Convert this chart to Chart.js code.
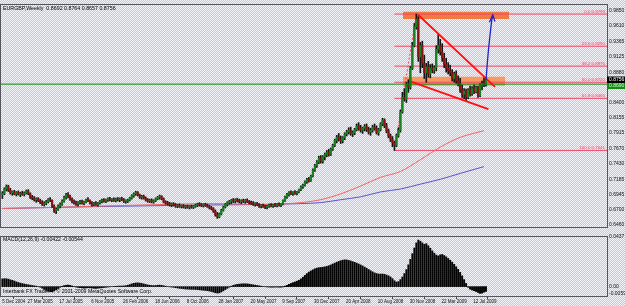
<!DOCTYPE html>
<html><head><meta charset="utf-8">
<script src="https://cdn.jsdelivr.net/npm/chart.js@4.4.1/dist/chart.umd.min.js"></script>
<style>
html,body{margin:0;padding:0;width:625px;height:306px;overflow:hidden}
body{background-color:#dcdaee;background-image:repeating-conic-gradient(#c6c4e2 0% 25%,#f3f3fa 0% 50%);background-size:2px 2px;position:relative}
canvas{position:absolute;left:0}
#main{top:0}
#macd{top:232px}
</style></head><body>
<canvas id="main" width="625" height="232"></canvas>
<canvas id="macd" width="625" height="74"></canvas>
<script>
// ---------- DATA ----------
const headerText = 'EURGBP,Weekly  0.8692 0.8764 0.8657 0.8756';
const macdTitle = 'MACD(12,26,9) -0.00422 -0.00544';
const copyrightText = 'Interbank FX Trader 4, \u00a9 2001-2009 MetaQuotes Software Corp.';
const firstWeek = 4;           // week index of first candle (week 0 = 5 Dec 2004)
const dateTickWeeks = [0,16,32,48,64,80,96,112,128,144,160,176,192,208,224,240];
const dateLabels = ['5 Dec 2004','27 Mar 2005','17 Jul 2005','6 Nov 2005','26 Feb 2006','18 Jun 2006','8 Oct 2006','28 Jan 2007','20 May 2007','9 Sep 2007','30 Dec 2007','20 Apr 2008','10 Aug 2008','30 Nov 2008','22 Mar 2009','12 Jul 2009'];
const priceTicks = [0.9850,0.9610,0.9365,0.9125,0.8880,0.8640,0.8400,0.8155,0.7915,0.7670,0.7430,0.7185,0.6945,0.6700,0.6460];
const macdTicks = [0.0437,0,-0.0059];
const macdTickLabels = ['0.0437','0.00','-0.0059'];

const opens = [
0.6935,0.6960,0.7030,0.7070,0.7010,0.6970,0.6985,0.6950,0.6975,0.6945,
0.6960,0.6950,0.6970,0.7000,0.6955,0.6900,0.6885,0.6860,0.6875,0.6845,
0.6815,0.6790,0.6805,0.6830,0.6865,0.6850,0.6760,0.6690,0.6710,0.6760,
0.6790,0.6840,0.6900,0.6940,0.6910,0.6870,0.6830,0.6810,0.6795,0.6815,
0.6830,0.6805,0.6825,0.6860,0.6845,0.6805,0.6790,0.6800,0.6785,0.6810,
0.6840,0.6855,0.6835,0.6860,0.6870,0.6855,0.6865,0.6850,0.6870,0.6860,
0.6875,0.6860,0.6835,0.6840,0.6855,0.6890,0.6925,0.6955,0.6975,0.6935,
0.6900,0.6915,0.6885,0.6860,0.6840,0.6850,0.6830,0.6845,0.6875,0.6900,
0.6915,0.6875,0.6825,0.6810,0.6800,0.6780,0.6795,0.6775,0.6760,0.6770,
0.6755,0.6765,0.6745,0.6755,0.6740,0.6750,0.6740,0.6760,0.6775,0.6790,
0.6780,0.6770,0.6785,0.6770,0.6750,0.6735,0.6720,0.6680,0.6625,0.6590,
0.6635,0.6695,0.6745,0.6785,0.6815,0.6835,0.6850,0.6840,0.6860,0.6845,
0.6830,0.6845,0.6835,0.6850,0.6830,0.6815,0.6805,0.6790,0.6800,0.6780,
0.6760,0.6770,0.6755,0.6745,0.6760,0.6775,0.6765,0.6780,0.6770,0.6785,
0.6775,0.6790,0.6850,0.6905,0.6945,0.6975,0.6960,0.6975,0.6965,0.6985,
0.7020,0.7065,0.7090,0.7145,0.7180,0.7165,0.7235,0.7330,0.7400,0.7455,
0.7520,0.7470,0.7540,0.7575,0.7610,0.7580,0.7660,0.7720,0.7800,0.7850,
0.7820,0.7790,0.7840,0.7900,0.7935,0.7960,0.7905,0.7920,0.7970,0.8030,
0.7990,0.7960,0.7990,0.8020,0.7970,0.7930,0.7960,0.8010,0.7990,0.7920,
0.7970,0.8060,0.8120,0.8030,0.7950,0.7870,0.7820,0.7760,0.7720,0.7880,
0.7960,0.8250,0.8480,0.8450,0.8680,0.8640,0.8940,0.9300,0.9600,0.9720,
0.9120,0.9300,0.9020,0.8870,0.8960,0.8850,0.8940,0.8910,0.8950,0.9240,
0.9300,0.9200,0.9100,0.9000,0.8940,0.8900,0.8870,0.8780,0.8850,0.8740,
0.8700,0.8600,0.8530,0.8580,0.8480,0.8600,0.8540,0.8620,0.8570,0.8640,
0.8510,0.8670,0.8700,0.8692];
const highs = [
0.6990,0.7050,0.7095,0.7090,0.7040,0.7000,0.7010,0.6990,0.7000,0.6980,
0.6995,0.6985,0.7015,0.7020,0.6970,0.6930,0.6910,0.6890,0.6895,0.6870,
0.6845,0.6830,0.6850,0.6880,0.6895,0.6860,0.6780,0.6730,0.6780,0.6810,
0.6860,0.6920,0.6960,0.6975,0.6935,0.6890,0.6860,0.6840,0.6830,0.6850,
0.6855,0.6840,0.6870,0.6895,0.6860,0.6830,0.6820,0.6830,0.6820,0.6850,
0.6870,0.6880,0.6870,0.6890,0.6900,0.6880,0.6890,0.6885,0.6895,0.6890,
0.6900,0.6880,0.6860,0.6870,0.6900,0.6940,0.6970,0.6995,0.6990,0.6950,
0.6930,0.6935,0.6905,0.6880,0.6870,0.6875,0.6860,0.6890,0.6915,0.6935,
0.6925,0.6890,0.6845,0.6835,0.6820,0.6810,0.6815,0.6800,0.6790,0.6795,
0.6780,0.6785,0.6770,0.6775,0.6765,0.6775,0.6770,0.6790,0.6805,0.6815,
0.6800,0.6795,0.6805,0.6790,0.6770,0.6755,0.6735,0.6700,0.6660,0.6650,
0.6710,0.6760,0.6800,0.6830,0.6850,0.6865,0.6880,0.6875,0.6885,0.6870,
0.6860,0.6870,0.6865,0.6875,0.6850,0.6840,0.6830,0.6815,0.6820,0.6800,
0.6785,0.6790,0.6775,0.6770,0.6790,0.6800,0.6790,0.6805,0.6800,0.6810,
0.6800,0.6860,0.6920,0.6960,0.6990,0.7000,0.6990,0.7005,0.6995,0.7030,
0.7080,0.7110,0.7160,0.7200,0.7215,0.7250,0.7350,0.7420,0.7480,0.7550,
0.7560,0.7560,0.7600,0.7640,0.7660,0.7680,0.7740,0.7820,0.7880,0.7910,
0.7870,0.7860,0.7920,0.7960,0.8000,0.8010,0.7950,0.7990,0.8060,0.8080,
0.8040,0.8010,0.8050,0.8060,0.8010,0.7990,0.8040,0.8060,0.8030,0.7990,
0.8080,0.8150,0.8140,0.8070,0.7980,0.7900,0.7860,0.7790,0.7900,0.8000,
0.8280,0.8560,0.8620,0.8720,0.8760,0.8970,0.9350,0.9650,0.9799,0.9760,
0.9350,0.9370,0.9150,0.9020,0.9050,0.9000,0.9010,0.8980,0.9300,0.9480,
0.9400,0.9330,0.9180,0.9100,0.9030,0.8990,0.8920,0.8880,0.8900,0.8820,
0.8780,0.8680,0.8620,0.8610,0.8620,0.8660,0.8650,0.8680,0.8660,0.8660,
0.8700,0.8740,0.8790,0.8764];
const lows = [
0.6880,0.6940,0.7000,0.6990,0.6950,0.6930,0.6940,0.6920,0.6935,0.6910,
0.6930,0.6920,0.6950,0.6940,0.6880,0.6860,0.6840,0.6820,0.6830,0.6800,
0.6770,0.6760,0.6780,0.6810,0.6830,0.6740,0.6660,0.6640,0.6690,0.6730,
0.6770,0.6820,0.6870,0.6890,0.6850,0.6810,0.6790,0.6770,0.6760,0.6790,
0.6790,0.6780,0.6810,0.6830,0.6790,0.6760,0.6765,0.6770,0.6760,0.6790,
0.6810,0.6820,0.6815,0.6835,0.6840,0.6830,0.6835,0.6825,0.6840,0.6830,
0.6845,0.6815,0.6805,0.6815,0.6840,0.6870,0.6900,0.6930,0.6920,0.6880,
0.6870,0.6870,0.6840,0.6820,0.6815,0.6810,0.6805,0.6830,0.6860,0.6870,
0.6860,0.6810,0.6790,0.6780,0.6760,0.6750,0.6760,0.6740,0.6735,0.6740,
0.6730,0.6730,0.6720,0.6725,0.6715,0.6725,0.6720,0.6740,0.6750,0.6760,
0.6750,0.6745,0.6755,0.6740,0.6715,0.6700,0.6660,0.6600,0.6565,0.6575,
0.6620,0.6680,0.6730,0.6760,0.6790,0.6800,0.6815,0.6810,0.6825,0.6810,
0.6800,0.6815,0.6805,0.6815,0.6795,0.6785,0.6770,0.6760,0.6765,0.6740,
0.6730,0.6740,0.6720,0.6715,0.6740,0.6745,0.6740,0.6750,0.6745,0.6760,
0.6750,0.6780,0.6835,0.6880,0.6915,0.6940,0.6930,0.6945,0.6935,0.6970,
0.7005,0.7040,0.7075,0.7120,0.7140,0.7150,0.7220,0.7310,0.7370,0.7430,
0.7440,0.7440,0.7490,0.7540,0.7550,0.7560,0.7640,0.7700,0.7760,0.7790,
0.7750,0.7760,0.7810,0.7870,0.7900,0.7880,0.7860,0.7890,0.7950,0.7960,
0.7930,0.7910,0.7950,0.7940,0.7900,0.7880,0.7930,0.7960,0.7900,0.7880,
0.7950,0.8030,0.8000,0.7920,0.7840,0.7780,0.7700,0.7641,0.7700,0.7850,
0.7930,0.8230,0.8420,0.8400,0.8560,0.8610,0.8920,0.9280,0.9560,0.9050,
0.8870,0.8950,0.8780,0.8720,0.8800,0.8790,0.8870,0.8860,0.8900,0.9180,
0.9150,0.9050,0.8950,0.8880,0.8850,0.8820,0.8740,0.8720,0.8700,0.8660,
0.8560,0.8480,0.8460,0.8430,0.8460,0.8500,0.8510,0.8540,0.8550,0.8480,
0.8490,0.8600,0.8650,0.8657];
const closes = [
0.6960,0.7030,0.7070,0.7010,0.6970,0.6985,0.6950,0.6975,0.6945,0.6960,
0.6950,0.6970,0.7000,0.6955,0.6900,0.6885,0.6860,0.6875,0.6845,0.6815,
0.6790,0.6805,0.6830,0.6865,0.6850,0.6760,0.6690,0.6710,0.6760,0.6790,
0.6840,0.6900,0.6940,0.6910,0.6870,0.6830,0.6810,0.6795,0.6815,0.6830,
0.6805,0.6825,0.6860,0.6845,0.6805,0.6790,0.6800,0.6785,0.6810,0.6840,
0.6855,0.6835,0.6860,0.6870,0.6855,0.6865,0.6850,0.6870,0.6860,0.6875,
0.6860,0.6835,0.6840,0.6855,0.6890,0.6925,0.6955,0.6975,0.6935,0.6900,
0.6915,0.6885,0.6860,0.6840,0.6850,0.6830,0.6845,0.6875,0.6900,0.6915,
0.6875,0.6825,0.6810,0.6800,0.6780,0.6795,0.6775,0.6760,0.6770,0.6755,
0.6765,0.6745,0.6755,0.6740,0.6750,0.6740,0.6760,0.6775,0.6790,0.6780,
0.6770,0.6785,0.6770,0.6750,0.6735,0.6720,0.6680,0.6625,0.6590,0.6635,
0.6695,0.6745,0.6785,0.6815,0.6835,0.6850,0.6840,0.6860,0.6845,0.6830,
0.6845,0.6835,0.6850,0.6830,0.6815,0.6805,0.6790,0.6800,0.6780,0.6760,
0.6770,0.6755,0.6745,0.6760,0.6775,0.6765,0.6780,0.6770,0.6785,0.6775,
0.6790,0.6850,0.6905,0.6945,0.6975,0.6960,0.6975,0.6965,0.6985,0.7020,
0.7065,0.7090,0.7145,0.7180,0.7165,0.7235,0.7330,0.7400,0.7455,0.7520,
0.7470,0.7540,0.7575,0.7610,0.7580,0.7660,0.7720,0.7800,0.7850,0.7820,
0.7790,0.7840,0.7900,0.7935,0.7960,0.7905,0.7920,0.7970,0.8030,0.7990,
0.7960,0.7990,0.8020,0.7970,0.7930,0.7960,0.8010,0.7990,0.7920,0.7970,
0.8060,0.8120,0.8030,0.7950,0.7870,0.7820,0.7760,0.7720,0.7880,0.7960,
0.8250,0.8480,0.8450,0.8680,0.8640,0.8940,0.9300,0.9600,0.9720,0.9120,
0.9300,0.9020,0.8870,0.8960,0.8850,0.8940,0.8910,0.8950,0.9240,0.9300,
0.9200,0.9100,0.9000,0.8940,0.8900,0.8870,0.8780,0.8850,0.8740,0.8700,
0.8600,0.8530,0.8580,0.8480,0.8600,0.8540,0.8620,0.8570,0.8640,0.8510,
0.8670,0.8700,0.8692,0.8756];
const macdValues = [
0.0068,0.0070,0.0069,0.0066,0.0060,0.0055,0.0049,0.0042,0.0036,0.0031,
0.0027,0.0023,0.0019,0.0016,0.0013,0.0010,0.0007,0.0004,0.0001,-0.0005,
-0.0014,-0.0024,-0.0033,-0.0041,-0.0046,-0.0044,-0.0038,-0.0028,-0.0016,-0.0006,
0.0003,0.0009,0.0012,0.0014,0.0011,0.0006,0.0001,-0.0004,-0.0008,-0.0010,
-0.0012,-0.0013,-0.0012,-0.0010,-0.0011,-0.0013,-0.0015,-0.0016,-0.0014,-0.0012,
-0.0010,-0.0008,-0.0006,-0.0004,-0.0002,0.0000,0.0002,0.0003,0.0004,0.0005,
0.0005,0.0006,0.0008,0.0012,0.0018,0.0024,0.0029,0.0032,0.0033,0.0031,
0.0028,0.0024,0.0019,0.0015,0.0012,0.0010,0.0009,0.0010,0.0012,0.0013,
0.0011,0.0008,0.0004,0.0001,-0.0002,-0.0004,-0.0006,-0.0009,-0.0012,-0.0015,
-0.0017,-0.0019,-0.0021,-0.0022,-0.0023,-0.0024,-0.0024,-0.0025,-0.0026,-0.0028,
-0.0030,-0.0032,-0.0034,-0.0036,-0.0039,-0.0043,-0.0048,-0.0054,-0.0057,-0.0055,
-0.0047,-0.0037,-0.0026,-0.0015,-0.0005,0.0004,0.0011,0.0016,0.0020,0.0022,
0.0024,0.0025,0.0025,0.0024,0.0022,0.0019,0.0016,0.0013,0.0010,0.0007,
0.0004,0.0001,-0.0001,-0.0003,-0.0004,-0.0005,-0.0005,-0.0004,-0.0004,-0.0005,
-0.0005,-0.0002,0.0004,0.0012,0.0020,0.0028,0.0035,0.0041,0.0048,0.0056,
0.0068,0.0083,0.0099,0.0115,0.0128,0.0138,0.0148,0.0157,0.0163,0.0167,
0.0169,0.0171,0.0174,0.0178,0.0184,0.0191,0.0199,0.0207,0.0215,0.0222,
0.0228,0.0233,0.0236,0.0235,0.0231,0.0226,0.0220,0.0214,0.0207,0.0199,
0.0191,0.0182,0.0172,0.0162,0.0151,0.0140,0.0130,0.0121,0.0115,0.0111,
0.0110,0.0111,0.0108,0.0102,0.0095,0.0085,0.0070,0.0052,0.0040,0.0044,
0.0062,0.0085,0.0115,0.0150,0.0192,0.0240,0.0290,0.0340,0.0385,0.0410,
0.0400,0.0385,0.0372,0.0378,0.0360,0.0338,0.0315,0.0295,0.0278,0.0270,
0.0280,0.0283,0.0274,0.0262,0.0248,0.0232,0.0215,0.0196,0.0175,0.0152,
0.0125,0.0095,0.0062,0.0028,-0.0006,-0.0022,-0.0030,-0.0036,-0.0043,-0.0052,
-0.0060,-0.0057,-0.0049,-0.0042];

const maRedWeeks  = [4,30,53,83,110,137,154,164,174,184,194,204,214,224,234,246];
const maRedValues = [0.6722,0.6740,0.6760,0.6784,0.6799,0.6784,0.6815,0.6861,0.6953,0.7077,0.7215,0.7308,0.7493,0.7693,0.7847,0.7954];
const maBlueWeeks  = [4,53,100,130,154,164,174,184,194,204,214,224,234,246];
const maBlueValues = [0.6722,0.6753,0.6775,0.6784,0.6799,0.6815,0.6861,0.6907,0.6984,0.7030,0.7107,0.7184,0.7277,0.7385];

const fibLevels = [0,23.6,38.2,50,61.8,100];
const fibPrices = [0.9799,0.9290,0.8975,0.8720,0.8465,0.7641];
const fibStartWeek = 201;
const fibBaseWeeks = [201,212];
const fibBasePrices = [0.7641,0.9799];

const zoneTopWeeks = [205.3,258.6];
const zoneTopPrices = [0.9835,0.9722];      // [upper, lower]
const zoneMidWeeks = [205.3,256.6];
const zoneMidPrices = [0.8807,0.8664];      // [upper, lower]
const trendUpperWeeks = [212.85,251.5];
const trendUpperPrices = [0.9788,0.8648];
const trendLowerWeeks = [209.3,248.2];
const trendLowerPrices = [0.8730,0.8294];
const arrowWeeks = [247.0,248.2,249.9,250.4];
const arrowPrices = [0.8756,0.9218,0.9707,0.9784];
const arrowHeadWeeks = [248.7,250.4,251.5];
const arrowHeadPrices = [0.9670,0.9784,0.9681];
const greenLinePrice = 0.8690;
const lastPrice = 0.8756;

// ---------- SETUP ----------
const X_MIN = 3.3, X_MAX = 307.8;
const Y_MIN = 0.6429, Y_MAX = 0.99425;
const MACD_MIN = -0.00826, MACD_MAX = 0.0437;
const FONT = '"Liberation Sans", Arial, sans-serif';
const UP = '#17821f', DOWN = '#8a1212', WICK = '#151515';
const FIB = '#ec4866';

Chart.defaults.font.family = FONT;
Chart.defaults.font.size = 5;
Chart.defaults.color = '#111';

const weeks = opens.map((_, k) => firstWeek + k);
const pts = (xs, ys) => xs.map((x, k) => ({x, y: ys[k]}));
const lineDs = (data, color, width, order, extra) => Object.assign({
  type: 'line', data, borderColor: color, borderWidth: width, pointRadius: 0,
  fill: false, tension: 0, order
}, extra || {});

const datasets = [];
// zones (filled between two lines)
datasets.push(lineDs(pts(zoneTopWeeks, [zoneTopPrices[0], zoneTopPrices[0]]), 'rgba(0,0,0,0)', 0, 30, {fill: '+1', backgroundColor: '#f07a42'}));
datasets.push(lineDs(pts(zoneTopWeeks, [zoneTopPrices[1], zoneTopPrices[1]]), 'rgba(0,0,0,0)', 0, 30));
datasets.push(lineDs(pts(zoneMidWeeks, [zoneMidPrices[0], zoneMidPrices[0]]), 'rgba(0,0,0,0)', 0, 30, {fill: '+1', backgroundColor: '#f59a62'}));
datasets.push(lineDs(pts(zoneMidWeeks, [zoneMidPrices[1], zoneMidPrices[1]]), 'rgba(0,0,0,0)', 0, 30));
// fibonacci
fibPrices.forEach(p => datasets.push(lineDs(pts([fibStartWeek, X_MAX], [p, p]), FIB, 1, 20)));
datasets.push(lineDs(pts(fibBaseWeeks, fibBasePrices), FIB, 1, 20, {borderDash: [2, 2]}));
// moving averages
datasets.push(lineDs(pts(maRedWeeks, maRedValues), '#f06666', 1, 15, {cubicInterpolationMode: 'monotone'}));
datasets.push(lineDs(pts(maBlueWeeks, maBlueValues), '#5a55c8', 1, 15, {cubicInterpolationMode: 'monotone'}));
// candles
datasets.push({type: 'bar', data: weeks.map((w, k) => ({x: w, y: [lows[k], highs[k]]})),
  backgroundColor: WICK, barThickness: 1, grouped: false, order: 10});
datasets.push({type: 'bar', data: weeks.map((w, k) => ({x: w, y: [opens[k], closes[k]]})),
  backgroundColor: opens.map((o, k) => closes[k] >= o ? UP : DOWN), barThickness: 1.5, minBarLength: 1, grouped: false, order: 9});
// horizontal green line, trend lines, arrow
datasets.push(lineDs(pts([X_MIN, X_MAX], [greenLinePrice, greenLinePrice]), '#0a8a0a', 1, 5));
datasets.push(lineDs(pts(trendUpperWeeks, trendUpperPrices), '#ff1010', 1.8, 3));
datasets.push(lineDs(pts(trendLowerWeeks, trendLowerPrices), '#ff1010', 1.8, 3));
datasets.push(lineDs(pts(arrowWeeks, arrowPrices), '#2222c8', 1.3, 2, {tension: 0.4}));
datasets.push(lineDs(pts(arrowHeadWeeks, arrowHeadPrices), '#2222c8', 1.3, 2));

const frame = {
  id: 'frame',
  afterDatasetsDraw(chart) {
    const {ctx, chartArea: a} = chart;
    ctx.save();
    ctx.strokeStyle = '#55555e'; ctx.lineWidth = 1;
    ctx.strokeRect(Math.round(a.left) - 0.5, Math.round(a.top) - 0.5, Math.round(a.right - a.left) + 1, Math.round(a.bottom - a.top) + 1);
    ctx.restore();
  }
};

const mainText = {
  id: 'mainText',
  afterDraw(chart) {
    const {ctx, chartArea: a} = chart;
    const y = chart.scales.y;
    ctx.save();
    ctx.font = '5.3px ' + FONT;
    ctx.fillStyle = '#000'; ctx.textAlign = 'left'; ctx.textBaseline = 'middle';
    ctx.fillText(headerText, a.left + 2, a.top + 3.5);
    ctx.font = '4.4px ' + FONT;
    ctx.fillStyle = FIB; ctx.textAlign = 'right'; ctx.textBaseline = 'bottom';
    fibLevels.forEach((lv, k) => {
      ctx.fillText(lv.toFixed(1) + ' ' + fibPrices[k].toFixed(4), a.right - 2, y.getPixelForValue(fibPrices[k]) - 0.5);
    });
    ctx.font = '5px ' + FONT;
    const py = Math.round(y.getPixelForValue(lastPrice));
    ctx.fillStyle = '#000'; ctx.fillRect(a.right, py - 3.5, 18, 6.5);
    ctx.fillStyle = '#fff'; ctx.textAlign = 'left'; ctx.textBaseline = 'middle';
    ctx.fillText(lastPrice.toFixed(4), a.right + 2, py);
    const gy = py + 3;
    ctx.fillStyle = '#148c14'; ctx.fillRect(a.right, gy, 18, 6);
    ctx.fillStyle = '#d8ffd8'; ctx.fillText(greenLinePrice.toFixed(4), a.right + 2, gy + 3);
    ctx.restore();
  }
};

new Chart(document.getElementById('main'), {
  type: 'bar',
  data: {datasets},
  options: {
    responsive: false, animation: false, events: [], devicePixelRatio: 1,
    layout: {padding: {left: 1, top: 3, right: 0, bottom: 1}},
    plugins: {legend: {display: false}, tooltip: {enabled: false}},
    scales: {
      x: {type: 'linear', display: false, min: X_MIN, max: X_MAX, offset: false, grid: {display: false}},
      y: {type: 'linear', position: 'right', min: Y_MIN, max: Y_MAX,
        grid: {display: false, drawTicks: false}, border: {display: false},
        afterBuildTicks: s => { s.ticks = priceTicks.map(v => ({value: v})); },
        afterFit: s => { s.width = 18; },
        ticks: {autoSkip: false, padding: 2, font: {size: 5}, color: '#111',
          callback: (v, i) => priceTicks[i].toFixed(4)}}
    }
  },
  plugins: [frame, mainText]
});

const macdText = {
  id: 'macdText',
  afterDraw(chart) {
    const {ctx, chartArea: a} = chart;
    ctx.save();
    ctx.fillStyle = '#000'; ctx.textAlign = 'left'; ctx.textBaseline = 'middle';
    ctx.font = '5.2px ' + FONT;
    ctx.fillText(macdTitle, a.left + 2, a.top + 3);
    ctx.font = '5.2px ' + FONT;
    ctx.fillText(copyrightText, a.left + 2, a.bottom - 4);
    ctx.restore();
  }
};

new Chart(document.getElementById('macd'), {
  type: 'bar',
  data: {datasets: [{
    data: weeks.map((w, k) => ({x: w, y: macdValues[k]})),
    backgroundColor: '#050505', barThickness: 1.3, grouped: false
  }]},
  options: {
    responsive: false, animation: false, events: [], devicePixelRatio: 1,
    layout: {padding: {left: 1, top: 1, right: 0, bottom: 0}},
    plugins: {legend: {display: false}, tooltip: {enabled: false}},
    scales: {
      x: {type: 'linear', position: 'bottom', min: X_MIN, max: X_MAX, offset: false,
        grid: {display: true, drawOnChartArea: false, drawTicks: true, tickLength: 3, color: '#444'},
        border: {display: false},
        afterBuildTicks: s => { s.ticks = dateTickWeeks.map(w => ({value: Math.max(w, X_MIN)})); },
        afterFit: s => { s.height = 10; },
        ticks: {autoSkip: false, maxRotation: 0, minRotation: 0, align: 'start', padding: 0,
          font: {size: 4.5}, color: '#111', callback: (v, i) => ' ' + dateLabels[i]}},
      y: {type: 'linear', position: 'right', min: MACD_MIN, max: MACD_MAX,
        grid: {display: false, drawTicks: false}, border: {display: false},
        afterBuildTicks: s => { s.ticks = macdTicks.map(v => ({value: v})); },
        afterFit: s => { s.width = 18; },
        ticks: {autoSkip: false, padding: 2, font: {size: 5}, color: '#111',
          callback: (v, i) => macdTickLabels[i]}}
    }
  },
  plugins: [frame, macdText]
});
</script>
</body></html>
